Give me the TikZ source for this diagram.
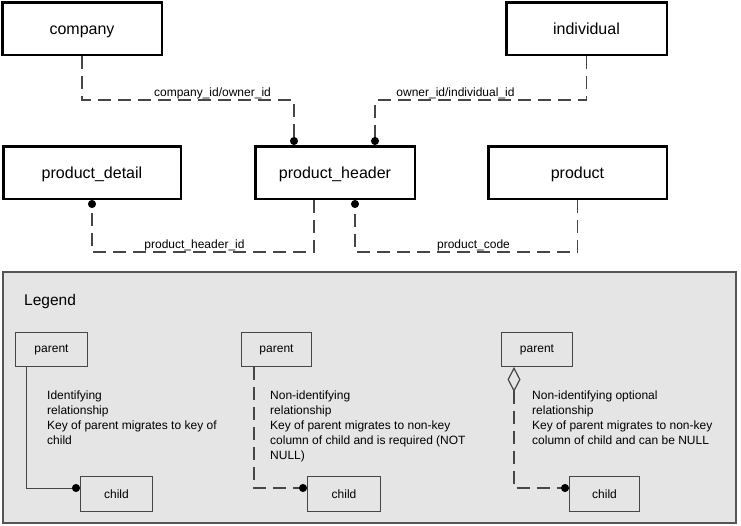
\documentclass[tikz,border=0pt]{standalone}
\usepackage{fontspec}
\setmainfont{Liberation Sans}
\usetikzlibrary{arrows.meta}
\definecolor{lgray}{RGB}{229,229,229}
\definecolor{conn}{RGB}{70,70,70}
\definecolor{lborder}{RGB}{85,85,85}
\begin{document}
\begin{tikzpicture}[x=1pt,y=-1pt,
  entity/.style={draw=black,line width=2.5pt,fill=white,minimum height=52.5pt,inner sep=0pt,text height=11.5pt,text depth=0.5pt,font=\fontsize{16}{19}\selectfont},
  lgbox/.style={draw=conn,line width=1pt,fill=lgray,minimum height=34pt,inner sep=0pt,font=\fontsize{12}{15}\selectfont},
  legendframe/.style={draw=lborder,line width=1.3pt,fill=lgray,minimum width=733pt,minimum height=251pt,inner sep=0pt},
  relline/.style={draw=conn,line width=1.2pt,dash pattern=on 13pt off 7pt},
  idline/.style={draw=conn,line width=1pt},
  dotend/.style={-{Circle[length=8pt,color=black]}},
  lbl/.style={font=\fontsize{12}{15}\selectfont,inner sep=0pt,anchor=base},
  desctext/.style={font=\fontsize{12}{15}\selectfont,inner sep=0pt,anchor=north west,align=left},
]
\path[fill=white] (0,0) rectangle (741,525);
\useasboundingbox (0,0) rectangle (741,525);

% entities
\node[entity,minimum width=159.5pt] (company) at (82,28.5) {company};
\node[entity,minimum width=160.5pt] (individual) at (586.5,28.5) {individual};
\node[entity,minimum width=177.5pt] (pd) at (92,172.5) {product\_detail};
\node[entity,minimum width=159.5pt] (ph) at (335,172.5) {product\_header};
\node[entity,minimum width=178.5pt] (product) at (577.5,172.5) {product};

% relationships
\draw[relline,dotend] (company.south) -- (82,100) -| (ph.north -| 294,0);
\draw[relline,dotend] (individual.south) -- (586.5,100) -| (ph.north -| 375,0);
\draw[relline,dotend] (ph.south -| 314,0) -- (314,252) -| (pd.south);
\draw[relline,dotend] (product.south) -- (577.5,252) -| (ph.south -| 355,0);

\node[lbl] (l1) at (212.5,96) {company\_id/owner\_id};
\node[lbl] (l2) at (455.5,96) {owner\_id/individual\_id};
\node[lbl] (l3) at (194.5,248) {product\_header\_id};
\node[lbl] (l4) at (473.5,248) {product\_code};

% legend
\node[legendframe] (legend) at (369.5,397.5) {};
\node[anchor=base west,inner sep=0pt,font=\fontsize{15.5}{18}\selectfont] (legendtitle) at (24,305) {Legend};

\node[lgbox,minimum width=72pt] (p1) at (51.5,349.5) {parent};
\node[lgbox,minimum width=70pt] (p2) at (276.5,349.5) {parent};
\node[lgbox,minimum width=71pt] (p3) at (537,349.5) {parent};
\node[lgbox,minimum width=72pt,minimum height=35pt] (c1) at (116.5,494) {child};
\node[lgbox,minimum width=73pt,minimum height=35pt] (c2) at (344,494) {child};
\node[lgbox,minimum width=70pt,minimum height=35pt] (c3) at (604.5,494) {child};

\draw[idline,dotend] (p1.south -| 26,0) |- ([yshift=6pt]c1.west);
\draw[relline,dotend] (p2.south -| 254,0) |- ([yshift=6pt]c2.west);
\draw[relline,{Diamond[length=25pt,width=13pt,color=conn,fill=lgray]}-{Circle[length=8pt,color=black]}] (p3.south -| 514,0) |- ([yshift=6pt]c3.west);

\node[desctext] (d1) at (47,391) {Identifying\\relationship\\Key of parent migrates to key of\\child};
\node[desctext] (d2) at (270,391) {Non-identifying\\relationship\\Key of parent migrates to non-key\\column of child and is required (NOT\\NULL)};
\node[desctext] (d3) at (532,391) {Non-identifying optional\\relationship\\Key of parent migrates to non-key\\column of child and can be NULL};
\end{tikzpicture}
\end{document}
